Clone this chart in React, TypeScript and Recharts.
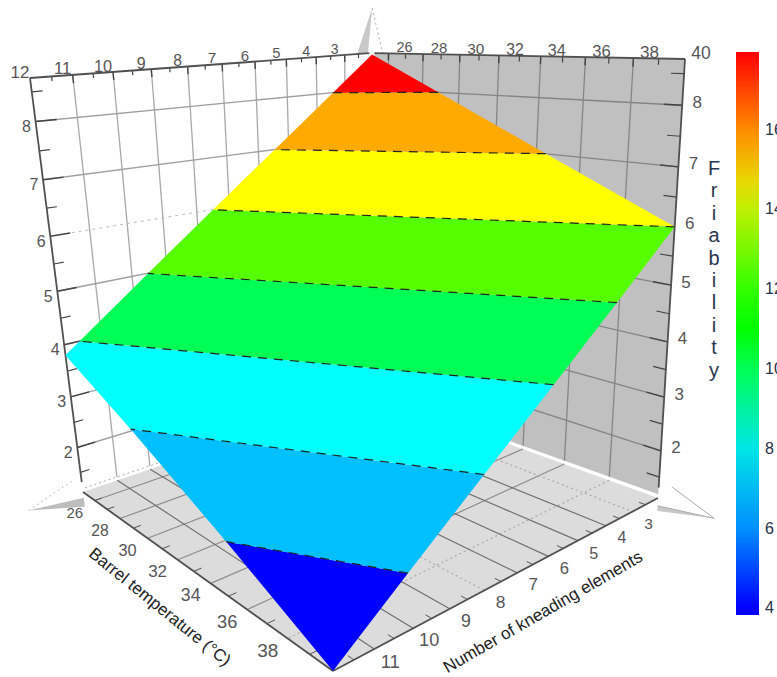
import { Area, Bar, BarChart, ComposedChart, Line, XAxis, YAxis } from "recharts";

// axis values
const tempTicks = [26, 28, 30, 32, 34, 36, 38];
const kneadTicks = [3, 4, 5, 6, 7, 8, 9, 10, 11];
const friabilityTicks = [2, 3, 4, 5, 6, 7, 8];
const friabilityMinorTicks = [1.5, 2.5, 3.5, 4.5, 5.5, 6.5, 7.5, 8.5];
const colorbarTicks = [4, 6, 8, 10, 12, 14, 16];
const titleLetters = ["F", "r", "i", "a", "b", "i", "l", "i", "t", "y"];

// fitted surface, friability at the four corners (temp, kneading, friability)
const surfaceCorners = [
  [25, 2, 8.7],
  [40, 2, 6.0],
  [40, 12, 1.1],
  [25, 12, 3.8],
];
const contourLevels = [1, 2, 3, 4, 5, 6, 7, 8, 9];
const contourColors = ["#0000ff", "#00c0ff", "#00ffff", "#00ff55", "#55ff00", "#ffff00", "#ffaa00", "#ff0000"];

const colorbarRange = [3.82, 17.93];
const colorbarValues = [17.93, 16, 14.7, 14, 12, 11, 10, 8, 6, 4, 3.82];
const colorbarColors = ["#ff0000", "#ff8a00", "#e8d800", "#c0f000", "#33ff00", "#00ff00", "#00ff55", "#00e6e6", "#0090ff", "#0000ff", "#0000ff"];

// cube limits
const T0 = 25, T1 = 40, N0 = 2, N1 = 12, Z0 = 1.1, Z1 = 8.73, ZWALL = 1.17;
const DEPTH = 0.9;

// where the cube sits on the page
const B = { x: 371, y: 394 }, R = { x: 658, y: 498 }, L = { x: 83, y: 492 }, F = { x: 333, y: 671 };
const det = (R.x - F.x) * (L.y - F.y) - (L.x - F.x) * (R.y - F.y);
const floorA = ((B.x - F.x) * (L.y - F.y) - (L.x - F.x) * (B.y - F.y)) / det;
const floorB = ((R.x - F.x) * (B.y - F.y) - (B.x - F.x) * (R.y - F.y)) / det;
const floorQuad = { o: B, p: R, q: L, a: floorA, b: floorB };
const topQuad = { o: { x: 372, y: 53 }, p: { x: 685, y: 59 }, q: { x: 30, y: 78 }, a: 0.78, b: 0.78 };

const quad = (k: any, u: number, v: number) => {
  const d = 1 - u - v + u * k.a + v * k.b;
  return {
    x: ((1 - u - v) * k.o.x + u * k.a * k.p.x + v * k.b * k.q.x) / d,
    y: ((1 - u - v) * k.o.y + u * k.a * k.p.y + v * k.b * k.q.y) / d,
  };
};

const project = (t: number, n: number, z: number) => {
  const u = (t - T0) / (T1 - T0);
  const v = (n - N0) / (N1 - N0);
  const w = (z - Z0) / (Z1 - Z0);
  const f = (DEPTH * w) / (1 + (DEPTH - 1) * w);
  const a = quad(floorQuad, u, v);
  const b = quad(topQuad, u, v);
  return { x: a.x + (b.x - a.x) * f, y: a.y + (b.y - a.y) * f };
};

// convex polygon -> [low, high] per x, so an Area can fill it
const toRange = (pts: { x: number; y: number }[]) => {
  const xs = Array.from(new Set(pts.map((p) => p.x))).sort((a, b) => a - b);
  return xs.map((x) => {
    const ys: number[] = [];
    pts.forEach((p, i) => {
      const q = pts[(i + 1) % pts.length];
      const lo = Math.min(p.x, q.x), hi = Math.max(p.x, q.x);
      if (x < lo || x > hi) return;
      if (p.x === q.x) ys.push(p.y, q.y);
      else ys.push(p.y + ((q.y - p.y) * (x - p.x)) / (q.x - p.x));
    });
    return { x, range: [Math.min(...ys), Math.max(...ys)] };
  });
};

const clip = (poly: number[][], level: number, keepAbove: boolean) => {
  const out: number[][] = [];
  poly.forEach((p, i) => {
    const q = poly[(i + 1) % poly.length];
    const pIn = keepAbove ? p[2] >= level : p[2] <= level;
    const qIn = keepAbove ? q[2] >= level : q[2] <= level;
    if (pIn) out.push(p);
    if (pIn !== qIn) {
      const s = (level - p[2]) / (q[2] - p[2]);
      out.push([p[0] + (q[0] - p[0]) * s, p[1] + (q[1] - p[1]) * s, level]);
    }
  });
  return out;
};

const bands = contourColors.map((color, i) => {
  const poly = clip(clip(surfaceCorners, contourLevels[i], true), contourLevels[i + 1], false);
  return { color, data: toRange(poly.map((p) => project(p[0], p[1], p[2]))) };
});

const contourLines = contourLevels.slice(1, -1).map((level) => {
  const poly = clip(surfaceCorners, level, true).filter((p) => p[2] === level);
  return poly.map((p) => project(p[0], p[1], p[2]));
});

const seg = (a: number[], b: number[]) => [project(a[0], a[1], a[2]), project(b[0], b[1], b[2])];
const projectAll = (pts: number[][]) => pts.map((p) => project(p[0], p[1], p[2]));

const renderLine = (data: any[], stroke: string, width: number, dash?: string, key?: string) => (
  <Line
    key={key}
    data={data}
    dataKey="y"
    stroke={stroke}
    strokeWidth={width}
    strokeDasharray={dash}
    dot={false}
    activeDot={false}
    isAnimationActive={false}
  />
);

const renderPoly = (pts: any[], fill: string, key?: string) => (
  <Area
    key={key}
    data={toRange(pts)}
    dataKey="range"
    type="linear"
    stroke="none"
    fill={fill}
    fillOpacity={1}
    dot={false}
    activeDot={false}
    isAnimationActive={false}
  />
);

const TextDot = (props: any) => {
  const { cx, cy, payload, index } = props;
  const rotate = payload.angle ? `rotate(${payload.angle} ${cx} ${cy})` : undefined;
  return (
    <text
      key={index}
      x={cx}
      y={cy}
      transform={rotate}
      textAnchor="middle"
      dominantBaseline="central"
      fontFamily="'Liberation Sans', Arial, sans-serif"
      fontSize={payload.size}
      fill={payload.color || "#555"}
    >
      {payload.label}
    </text>
  );
};

const renderText = (data: any[], key: string) => (
  <Line key={key} data={data} dataKey="y" stroke="none" dot={TextDot} activeDot={false} isAnimationActive={false} />
);

// tick labels, offset from the axis edge and scaled with depth
const labelAt = (p: { x: number; y: number }, dx: number, dy: number, label: any, size: number) => ({
  x: p.x + dx,
  y: p.y + dy,
  label,
  size,
});

const topKneadLabels = [12, ...kneadTicks].map((n) => labelAt(project(T0, n, Z1), -10, -6, n, 14 + ((n - 3) / 9) * 3));
const topTempLabels = [...tempTicks, 40].map((t) => labelAt(project(t, N0, Z1), 16, -6, t, 14.5 + ((t - 26) / 14) * 3));
const leftZLabels = friabilityTicks.map((z) => labelAt(project(T0, N1, z), -9, 5, z, 16));
const rightZLabels = friabilityTicks.map((z) => labelAt(project(T1, N0, z), 15, -3, z, 17));
const floorTempLabels = tempTicks.map((t) => labelAt(project(t, N1, Z0), -20, 12, t, 15 + ((t - 26) / 12) * 4));
const floorKneadLabels = kneadTicks.map((n) => labelAt(project(T1, n, Z0), 16, 12, n, 15.5 + ((n - 3) / 8) * 3));

const titles = [
  { x: 160, y: 607, label: "Barrel temperature (°C)", size: 17, angle: 39, color: "#222" },
  { x: 543, y: 612, label: "Number of kneading elements", size: 17, angle: -30, color: "#222" },
];
const friabilityTitle = titleLetters.map((label, i) => ({ x: 714, y: 168 + i * 22.4, label, size: 20, color: "#2a3550" }));

const gridLines: any[] = [];
const addLine = (a: number[], b: number[], stroke: string, width: number, dash?: string) =>
  gridLines.push({ data: seg(a, b), stroke, width, dash });

// left wall
kneadTicks.forEach((n) => {
  addLine([T0, n, ZWALL], [T0, n, Z1], "#a8a8a8", 1.3);
  addLine([T0, n, Z1 - 0.14], [T0, n, Z1], "#444", 1.4);
});
friabilityTicks.forEach((z) => addLine([T0, N0, z], [T0, N1, z], z === 6 ? "#bbb" : "#a0a0a0", z === 6 ? 1 : 1.4, z === 6 ? "3 4" : undefined));
addLine([T0, N0, ZWALL], [T0, N1, ZWALL], "#aaa", 1, "2 3");
// right wall
tempTicks.forEach((t) => {
  addLine([t, N0, ZWALL], [t, N0, Z1], "#858585", 1.3);
  addLine([t, N0, Z1 - 0.14], [t, N0, Z1], "#444", 1.4);
});
friabilityTicks.forEach((z) => addLine([T0 + 0.15, N0, z], [T1, N0, z], "#858585", 1.4));
// floor
tempTicks.forEach((t) => addLine([t, N0, Z0], [t, N1, Z0], t === 38 ? "#aaa" : "#8c8c8c", 1.2, t === 38 ? "2 3" : undefined));
kneadTicks.forEach((n) => addLine([T0, n, Z0], [T1, n, Z0], n === 3 || n === 8 ? "#aaa" : "#707070", 1.2, n === 3 || n === 8 ? "2 3" : undefined));
// minor ticks
[2, ...kneadTicks].forEach((n) => {
  addLine([T0, n + 0.5, Z1], [T0, n + 0.5, Z1 - 0.08], "#444", 1.2);
  addLine([T1 - 0.25, n + 0.5, Z0], [T1, n + 0.5, Z0], "#555", 1);
});
[25, ...tempTicks].forEach((t) => {
  addLine([t + 1, N0, Z1], [t + 1, N0, Z1 - 0.1], "#444", 1.2);
  addLine([t + 1, N1 - 0.2, Z0], [t + 1, N1, Z0], "#555", 1);
});
friabilityMinorTicks.forEach((z) => {
  addLine([T0, N1 - 0.25, z], [T0, N1, z], "#444", 1.2);
  addLine([T1 - 0.5, N0, z], [T1, N0, z], "#444", 1.2);
});
// major ticks on the z edges
friabilityTicks.forEach((z) => {
  addLine([T0, N1 - 0.5, z], [T0, N1, z], "#444", 1.4);
  addLine([T1 - 0.7, N0, z], [T1, N0, z], "#444", 1.4);
});

// frame
const frame = [
  seg([T0, N1, Z1], [T0, N0 + 0.1, Z1]),
  seg([T0 + 0.15, N0, Z1], [T1, N0, Z1]),
  seg([T0, N1, Z1], [T0, N1, 1.3]),
  seg([T1, N0, Z1], [T1, N0, 1.3]),
  seg([T0, N1, Z0], [T1, N1, Z0]),
  seg([T1, N1, Z0], [T1, N0, Z0]),
];

const rightWall = projectAll([[T0 + 0.15, N0, Z1], [T1, N0, Z1], [T1, N0, ZWALL], [T0 + 0.15, N0, ZWALL]]);
const floorPoly = projectAll([[T0, N0, Z0], [T1, N0, Z0], [T1, N1, Z0], [T0, N1, Z0]]);

// axis cones past the cube corners
const topCone = projectAll([[T0, N0, 9.62], [T0, 2.55, Z1], [T0, 2.15, Z1]]);
const leftCone = projectAll([[T0, 13.5, Z0], [T0, N1, 0.98], [T0, N1, 0.8]]);
const rightCone = projectAll([[42.1, N0, Z0], [40, N0, 0.95], [40, N0, 0.85]]);
const coneLines = [
  { data: seg([T0, N0, 9.62], [25.65, N0, Z1]), stroke: "#aaa", dash: "2 3" },
  { data: seg([T0, 13.5, Z0], [T0, 12.2, 1.4]), stroke: "#bbb", dash: "2 3" },
  { data: seg([42.1, N0, Z0], [40.5, N0, 1.4]), stroke: "#aaa" },
  { data: seg([42.1, N0, Z0], [40, N0, 0.95]), stroke: "#aaa" },
];

const colorbarData = [{ name: "friability", value: colorbarRange }];

const chartProps = { width: 777, height: 677, margin: { top: 0, right: 0, bottom: 0, left: 0 } };

export default function App() {
  return (
    <div style={{ position: "absolute", left: 0, top: 0, width: 777, height: 677, background: "#fff", overflow: "hidden" }}>
      {/* recharts draws lines over areas, so the surface gets its own layer above the box */}
      <div style={{ position: "absolute", left: 0, top: 0 }}>
        <ComposedChart {...chartProps}>
          <XAxis hide type="number" dataKey="x" domain={[0, 777]} />
          <YAxis hide type="number" domain={[0, 677]} reversed />
          {renderPoly(rightWall, "#c0c0c0", "wall-r")}
          {renderPoly(floorPoly, "#dcdcdc", "floor")}
          {renderPoly(topCone, "#c8c8c8", "cone-t")}
          {renderPoly(leftCone, "#bdbdbd", "cone-l")}
          {renderPoly(rightCone, "#c8c8c8", "cone-r")}
          {coneLines.map((l, i) => renderLine(l.data, l.stroke, 1, l.dash, `cone${i}`))}
          {gridLines.map((l, i) => renderLine(l.data, l.stroke, l.width, l.dash, `grid${i}`))}
          {frame.map((d, i) => renderLine(d, "#505050", 1.8, undefined, `frame${i}`))}
        </ComposedChart>
      </div>
      <div style={{ position: "absolute", left: 0, top: 0 }}>
        <ComposedChart {...chartProps}>
          <XAxis hide type="number" dataKey="x" domain={[0, 777]} />
          <YAxis hide type="number" domain={[0, 677]} reversed />
          {bands.map((b, i) => (
            <Area
              key={`band${i}`}
              data={b.data}
              dataKey="range"
              type="linear"
              stroke="none"
              fill={b.color}
              fillOpacity={1}
              dot={false}
              activeDot={false}
              isAnimationActive={false}
            />
          ))}
          {contourLines.map((d, i) => renderLine(d, "#222", 1.2, "9 7", `level${i}`))}
          {renderText(topKneadLabels, "lab1")}
          {renderText(topTempLabels, "lab2")}
          {renderText(leftZLabels, "lab3")}
          {renderText(rightZLabels, "lab4")}
          {renderText(floorTempLabels, "lab5")}
          {renderText(floorKneadLabels, "lab6")}
          {renderText(titles, "titles")}
          {renderText(friabilityTitle, "friability")}
        </ComposedChart>
      </div>
      <div style={{ position: "absolute", left: 730, top: 0 }}>
        <BarChart
          width={47}
          height={677}
          data={colorbarData}
          barCategoryGap={0}
          margin={{ top: 52, right: 0, bottom: 62, left: 6 }}
        >
          <defs>
            <linearGradient id="colorbar" x1="0" y1="0" x2="0" y2="1">
              {colorbarValues.map((v, i) => (
                <stop
                  key={v}
                  offset={(colorbarRange[1] - v) / (colorbarRange[1] - colorbarRange[0])}
                  stopColor={colorbarColors[i]}
                />
              ))}
            </linearGradient>
          </defs>
          <XAxis hide dataKey="name" />
          <YAxis
            orientation="right"
            type="number"
            width={18}
            domain={colorbarRange}
            ticks={colorbarTicks}
            interval={0}
            axisLine={false}
            tickLine={false}
            tickSize={6}
            tickMargin={0}
            tick={{ fill: "#26324a", fontSize: 16, fontFamily: "'Liberation Sans', Arial, sans-serif" }}
          />
          <Bar dataKey="value" fill="url(#colorbar)" isAnimationActive={false} />
        </BarChart>
      </div>
    </div>
  );
}
